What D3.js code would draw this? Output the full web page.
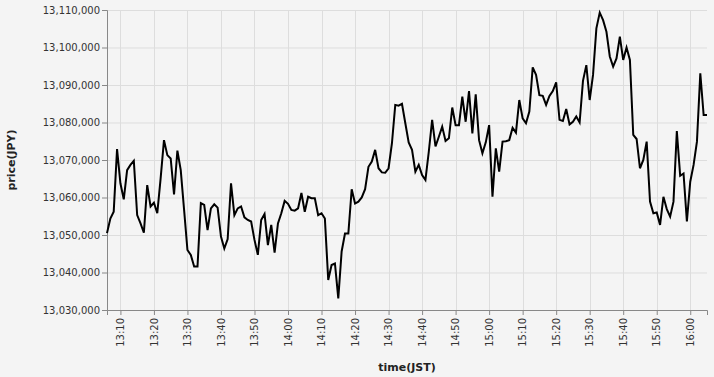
<!DOCTYPE html>
<html>
<head>
<meta charset="utf-8">
<script src="https://cdn.jsdelivr.net/npm/d3@7"></script>
<style>
  body { margin: 0; background: #f4f4f4; }
  svg { display: block; font-family: "DejaVu Sans", sans-serif; }
</style>
</head>
<body>
<div id="chart-area"></div>
<script>
// minute prices from 13:06 to 16:05 JST
var startTime = new Date(2024, 0, 1, 13, 6);
var prices = [
  13050500, 13054400, 13056200, 13072900, 13063800, 13059500, 13067300, 13068700, 13069800, 13055300,
  13053100, 13050600, 13063300, 13057600, 13058600, 13055800, 13065100, 13075300, 13071300, 13070400,
  13060800, 13072500, 13067300, 13056700, 13046000, 13044700, 13041600, 13041600, 13058500, 13058000,
  13051300, 13057100, 13058200, 13057300, 13049600, 13046400, 13048900, 13063800, 13055300, 13057100,
  13057600, 13054700, 13054000, 13053600, 13048700, 13044700, 13054000, 13055600, 13047300, 13052700,
  13045300, 13053100, 13055800, 13059100, 13058300, 13056700, 13056500, 13057100, 13061200, 13056200,
  13060200, 13059800, 13059800, 13055300, 13055800, 13054400, 13038000, 13042000, 13042400, 13033100,
  13045600, 13050400, 13050400, 13062200, 13058400, 13058900, 13060000, 13062200, 13068200, 13069600,
  13072700, 13067800, 13066700, 13066600, 13067800, 13074400, 13084700, 13084500, 13085000, 13079800,
  13074700, 13072700, 13066900, 13068700, 13066000, 13064700, 13072200, 13080700, 13073600, 13076200,
  13078900, 13075100, 13075800, 13084000, 13079300, 13079300, 13086900, 13080200, 13088400, 13077100,
  13087500, 13075300, 13071800, 13074700, 13079300, 13060200, 13073100, 13066900, 13074900, 13075000,
  13075300, 13078600, 13077300, 13086000, 13081100, 13079800, 13082900, 13094700, 13092700, 13087300,
  13087100, 13084700, 13087100, 13088400, 13090700, 13080700, 13080400, 13083600, 13079500, 13080200,
  13081600, 13080000, 13091100, 13095300, 13086000, 13092700, 13105100, 13109300, 13107300, 13104200,
  13097600, 13094900, 13097100, 13102900, 13096700, 13100000, 13096700, 13076700, 13075600, 13067800,
  13070000, 13074900, 13058900, 13055800, 13056000, 13052700, 13060200, 13056900, 13054900, 13058900,
  13077700, 13065800, 13066400, 13053600, 13064200, 13068700, 13074900, 13093100, 13082000, 13082000
];
var priceTicks = [13030000, 13040000, 13050000, 13060000, 13070000, 13080000, 13090000, 13100000, 13110000];

var margin = {top: 10, right: 7, bottom: 67, left: 107};
var W = 714, H = 377;
var width = W - margin.left - margin.right;
var height = H - margin.top - margin.bottom;

var data = prices.map(function(p, i) {
  return {time: d3.timeMinute.offset(startTime, i), price: p};
});

var svg = d3.select("#chart-area")
  .append("svg")
  .attr("width", W)
  .attr("height", H);

svg.append("rect")
  .attr("width", W).attr("height", H)
  .attr("fill", "#f4f4f4");

var g = svg.append("g")
  .attr("transform", "translate(" + margin.left + "," + margin.top + ")");

var x = d3.scaleTime()
  .domain(d3.extent(data, function(d) { return d.time; }))
  .range([0, width]);

var y = d3.scaleLinear()
  .domain([13030000, 13110000])
  .range([height, 0]);

var xTicks = d3.timeMinute.every(10).range(startTime, d3.timeMinute.offset(startTime, prices.length));

// grid
g.append("g").selectAll("line.hg")
  .data(priceTicks).enter().append("line")
  .attr("x1", 0).attr("x2", width)
  .attr("y1", function(d) { return y(d) + 0.5; })
  .attr("y2", function(d) { return y(d) + 0.5; })
  .attr("stroke", "#ddd");

g.append("g").selectAll("line.vg")
  .data(xTicks).enter().append("line")
  .attr("x1", function(d) { return Math.round(x(d)) + 0.5; })
  .attr("x2", function(d) { return Math.round(x(d)) + 0.5; })
  .attr("y1", 0).attr("y2", height)
  .attr("stroke", "#ddd");

// axes
var yAxis = d3.axisLeft(y)
  .tickValues(priceTicks)
  .tickSize(5)
  .tickPadding(2)
  .tickFormat(d3.format(","));

var gy = g.append("g").attr("class", "y-axis").call(yAxis);

var xAxis = d3.axisBottom(x)
  .tickValues(xTicks)
  .tickSize(5)
  .tickPadding(3)
  .tickFormat(d3.timeFormat("%H:%M"));

var gx = g.append("g")
  .attr("class", "x-axis")
  .attr("transform", "translate(0," + height + ")")
  .call(xAxis);

gx.selectAll("text")
  .attr("transform", "rotate(-90)")
  .attr("x", -8)
  .attr("y", 0)
  .attr("dy", "0.32em")
  .attr("text-anchor", "end");

svg.selectAll(".domain, .tick line").attr("stroke", "#888");
svg.selectAll(".tick text")
  .attr("fill", "#333")
  .attr("font-size", "10px")
  .attr("font-family", "DejaVu Sans, sans-serif");

// line
var line = d3.line()
  .x(function(d) { return x(d.time); })
  .y(function(d) { return y(d.price); });

g.append("path")
  .datum(data)
  .attr("fill", "none")
  .attr("stroke", "#000")
  .attr("stroke-width", 2)
  .attr("stroke-linejoin", "miter")
  .attr("d", line);

// axis titles
svg.append("text")
  .attr("x", margin.left + width / 2)
  .attr("y", 371)
  .attr("text-anchor", "middle")
  .attr("font-size", "11px")
  .attr("font-weight", "bold")
  .attr("fill", "#222")
  .text("time(JST)");

svg.append("text")
  .attr("transform", "translate(15," + (margin.top + height / 2) + ") rotate(-90)")
  .attr("text-anchor", "middle")
  .attr("font-size", "11px")
  .attr("font-weight", "bold")
  .attr("fill", "#222")
  .text("price(JPY)");
</script>
</body>
</html>
